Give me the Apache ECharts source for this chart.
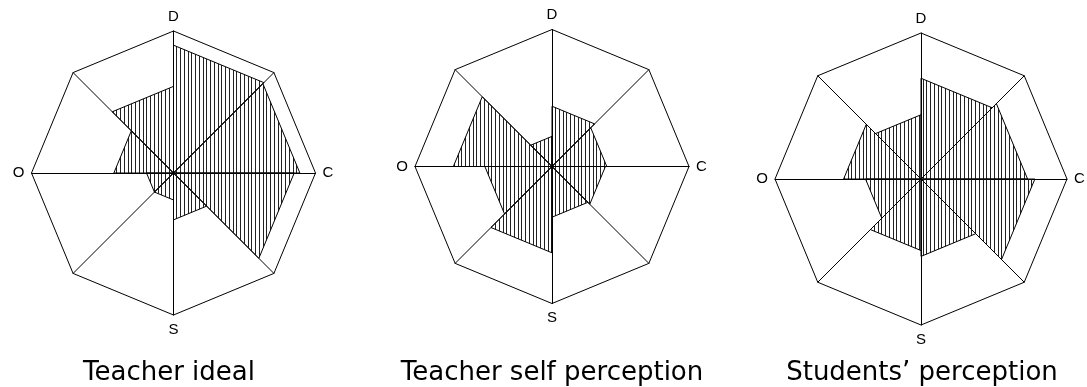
<!DOCTYPE html>
<html>
<head>
<meta charset="utf-8">
<title>QTI</title>
<script src="https://cdn.jsdelivr.net/npm/echarts@6/dist/echarts.min.js"></script>
<style>
  html, body { margin: 0; padding: 0; background: #fff; }
  #chart { width: 1087px; height: 387px; }
</style>
</head>
<body>
<div id="chart"></div>
<script>
// sectors clockwise from the top: DC, CD, CS, SC, SO, OS, OD, DO
const sectors = ['DC', 'CD', 'CS', 'SC', 'SO', 'OS', 'OD', 'DO']
// spoke labels, radar goes counterclockwise from the top
const axisNames = ['D', '', 'O', '', 'S', '', 'C', '']
const titles = ['Teacher ideal', 'Teacher self perception', 'Students\u2019 perception']

// scores as share of the scale (0..1)
const teacherIdeal = [0.90, 0.89, 0.85, 0.33, 0.19, 0.19, 0.42, 0.61]
const teacherSelf = [0.44, 0.40, 0.39, 0.37, 0.63, 0.49, 0.72, 0.22]
const studentsView = [0.69, 0.73, 0.78, 0.53, 0.49, 0.38, 0.53, 0.44]
const allData = [teacherIdeal, teacherSelf, studentsView]

// layout of the three octagons
const centers = [[173.5, 173], [552, 166.5], [921, 179]]
const radii = [142, 137, 146]
const titleX = [169, 552, 922]

// vertical line hatching
function makeHatch() {
  let c = document.createElement('canvas')
  c.width = 15
  c.height = 4
  let ctx = c.getContext('2d')
  ctx.fillStyle = '#222'
  ;[0, 4, 8, 11].forEach(function (x) { ctx.fillRect(x, 0, 1, 4) })
  return c
}
const hatch = { image: makeHatch(), repeat: 'repeat' }

let chart = echarts.init(document.getElementById('chart'))

let radar = [], polar = [], angleAxis = [], radiusAxis = [], series = [], title = []
for (let k = 0; k < 3; k++) {
  radar.push({
    center: centers[k],
    radius: radii[k],
    startAngle: 90,
    shape: 'polygon',
    splitNumber: 1,
    indicator: axisNames.map(function (n) { return { name: n, max: 1 } }),
    axisName: { color: '#000', fontFamily: 'Liberation Sans', fontSize: 15 },
    nameGap: 7,
    axisLine: { lineStyle: { color: '#000', width: 1 } },
    splitLine: { lineStyle: { color: '#000', width: 1 } },
    splitArea: { show: false },
    axisTick: { show: false },
    axisLabel: { show: false }
  })
  polar.push({ center: centers[k], radius: radii[k] })
  angleAxis.push({ polarIndex: k, type: 'value', min: 0, max: 360, startAngle: 90, clockwise: true, show: false })
  radiusAxis.push({ polarIndex: k, type: 'value', min: 0, max: 1, show: false })

  series.push({
    type: 'custom',
    coordinateSystem: 'polar',
    polarIndex: k,
    silent: true,
    z: 1,
    data: allData[k].map(function (v, i) { return [v, i * 45, (i + 1) * 45, sectors[i]] }),
    encode: { radius: 0, angle: 1 },
    renderItem: function (params, api) {
      let v = api.value(0)
      let a1 = api.value(1)
      let a2 = api.value(2)
      return {
        type: 'polygon',
        shape: { points: [api.coord([0, a1]), api.coord([v, a1]), api.coord([v, a2])] },
        style: { fill: hatch, stroke: '#000', lineWidth: 1 }
      }
    }
  })

  title.push({
    text: titles[k],
    left: titleX[k],
    top: 360,
    textAlign: 'center',
    padding: 0,
    textStyle: { fontFamily: 'DejaVu Sans', fontSize: 26, fontWeight: 'normal', color: '#000' }
  })
}

chart.setOption({
  animation: false,
  title: title,
  radar: radar,
  polar: polar,
  angleAxis: angleAxis,
  radiusAxis: radiusAxis,
  series: series
})
</script>
</body>
</html>
